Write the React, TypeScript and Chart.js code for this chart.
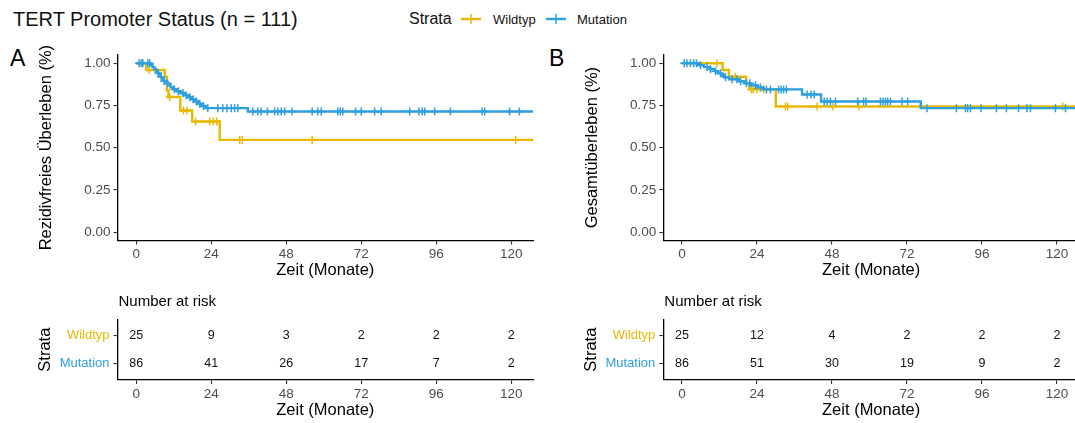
import React, { useEffect, useRef } from "react";
import { Chart, registerables } from "chart.js";

Chart.register(...registerables);

const FONT = "'Liberation Sans', Arial, Helvetica, sans-serif";
const YELLOW = "#E7B800";
const BLUE = "#2E9FDF";

// ---------- shared labels ----------
const strataLabels = ["Wildtyp", "Mutation"];
const xTicks = [0, 24, 48, 72, 96, 120];
const yTicks = [0, 0.25, 0.5, 0.75, 1];
const riskTimes = [0, 24, 48, 72, 96, 120];

// ---------- Panel A: Rezidivfreies Überleben ----------
const rfsWildTimes = [0, 3.2, 9.1, 9.8, 10.3, 14.1, 17.9, 26.7, 130];
const rfsWildSurv = [1, 0.96, 0.92, 0.84, 0.8, 0.72, 0.655, 0.546, 0.546];
const rfsWildCensor = [4.1, 10.7, 15.1, 16.2, 19.0, 23.5, 24.7, 25.8, 33.1, 33.9, 56.3, 121.4];

const rfsMutTimes = [0, 4.5, 5.2, 5.8, 6.3, 6.8, 7.3, 7.8, 8.3, 8.8, 9.5, 10.3, 11.0, 11.8, 13.0, 14.2, 15.3, 16.5, 17.8, 18.8, 19.8, 20.8, 22.2, 35.7, 130];
const rfsMutSurv = [1, 0.988, 0.977, 0.965, 0.953, 0.942, 0.93, 0.918, 0.906, 0.894, 0.882, 0.87, 0.858, 0.846, 0.834, 0.822, 0.81, 0.798, 0.786, 0.773, 0.76, 0.747, 0.734, 0.714, 0.714];
const rfsMutCensor = [0.9, 1.6, 2.1, 3.7, 4.3, 7.0, 8.0, 9.0, 10.0, 12.2, 13.5, 15.0, 16.0, 17.2, 18.2, 19.3, 20.3, 21.5, 22.9, 26.1, 27.7, 29.0, 30.4, 31.5, 32.5, 37.3, 38.9, 40.0, 42.0, 44.3, 45.3, 46.4, 47.5, 49.8, 56.3, 58.1, 59.2, 64.5, 65.3, 66.1, 70.2, 72.0, 76.3, 78.4, 87.5, 90.4, 91.5, 92.3, 95.5, 100.5, 110.7, 111.5, 119.5, 122.6];

const rfsRiskWild = [25, 9, 3, 2, 2, 2];
const rfsRiskMut = [86, 41, 26, 17, 7, 2];

// ---------- Panel B: Gesamtüberleben ----------
const osWildTimes = [0, 13.0, 15.0, 20.5, 21.5, 30.0, 130];
const osWildSurv = [1, 0.96, 0.92, 0.88, 0.846, 0.744, 0.744];
const osWildCensor = [11.2, 17.1, 22.2, 22.8, 24.0, 26.1, 33.1, 33.8, 43.2, 48.3, 56.5, 121.8];

const osMutTimes = [0, 5, 7, 9, 10.5, 11.5, 12.5, 13.5, 15, 18, 20, 22, 24, 26, 38.4, 44.5, 76.4, 130];
const osMutSurv = [1, 0.988, 0.977, 0.965, 0.953, 0.941, 0.929, 0.917, 0.905, 0.893, 0.881, 0.869, 0.857, 0.845, 0.815, 0.773, 0.734, 0.734];
const osMutCensor = [0.7, 1.6, 2.7, 3.7, 4.6, 5.9, 8.0, 9.1, 10.7, 12.3, 13.9, 16.0, 17.6, 18.7, 20.6, 21.7, 23.5, 25.1, 27.0, 28.3, 30.9, 31.7, 32.5, 33.4, 40.0, 41.3, 42.3, 45.5, 46.4, 47.5, 49.1, 56.2, 58.1, 58.9, 63.5, 64.3, 65.1, 65.8, 66.7, 70.4, 72.2, 78.4, 87.8, 90.7, 91.4, 92.3, 95.7, 100.6, 103.8, 107.7, 110.4, 111.5, 119.5, 122.7];

const osRiskWild = [25, 12, 4, 2, 2, 2];
const osRiskMut = [86, 51, 30, 19, 9, 2];

// ---------- helpers ----------
type Series = { label: string; color: string; times: number[]; surv: number[]; censor: number[]; order: number };

function survAt(times: number[], surv: number[], t: number) {
  let s = surv[0];
  for (let i = 0; i < times.length; i++) if (times[i] <= t) s = surv[i];
  return s;
}

type Geom = {
  yWidth: number;
  padTop: number;
  padRight: number;
  xHeight: number;
  xTitlePadBottom: number;
  yTitlePadTop: number;
};

function xScale(g: Geom) {
  return {
    type: "linear",
    min: -6,
    max: 127,
    afterBuildTicks: (s: any) => {
      s.ticks = xTicks.map((v) => ({ value: v }));
    },
    afterFit: (s: any) => {
      s.height = g.xHeight;
    },
    grid: { drawOnChartArea: false, drawTicks: true, tickLength: 4, tickColor: "#333", lineWidth: 1.1 },
    border: { display: true, color: "#000", width: 1.3 },
    ticks: { color: "#4D4D4D", font: { family: FONT, size: 13.5 }, padding: 2, maxRotation: 0, autoSkip: false },
    title: {
      display: true,
      text: "Zeit (Monate)",
      color: "#000",
      font: { family: FONT, size: 16.5 },
      padding: { top: 0, bottom: g.xTitlePadBottom },
    },
  };
}

function survivalConfig(series: Series[], yTitle: string, g: Geom): any {
  const datasets: any[] = [];
  series.forEach((s) => {
    datasets.push({
      type: "line",
      label: s.label,
      order: s.order,
      data: s.times.map((t, i) => ({ x: t, y: s.surv[i] })),
      borderColor: s.color,
      borderWidth: 2.4,
      stepped: "before",
      pointRadius: 0,
      pointHoverRadius: 0,
      fill: false,
    });
    datasets.push({
      type: "scatter",
      label: s.label + " (zensiert)",
      order: s.order,
      data: s.censor.map((t) => ({ x: t, y: survAt(s.times, s.surv, t) })),
      pointStyle: "cross",
      pointRadius: 4,
      pointHoverRadius: 4,
      borderColor: s.color,
      backgroundColor: s.color,
      borderWidth: 1.5,
      showLine: false,
    });
  });
  return {
    type: "line",
    data: { datasets },
    options: {
      animation: false,
      responsive: false,
      devicePixelRatio: 1,
      events: [],
      layout: { padding: { top: g.padTop, right: g.padRight, bottom: 0, left: 0 } },
      plugins: { legend: { display: false }, tooltip: { enabled: false }, title: { display: false } },
      scales: {
        x: xScale(g),
        y: {
          type: "linear",
          min: -0.05,
          max: 1.05,
          afterBuildTicks: (s: any) => {
            s.ticks = yTicks.map((v) => ({ value: v }));
          },
          afterFit: (s: any) => {
            s.width = g.yWidth;
          },
          grid: { drawOnChartArea: false, drawTicks: true, tickLength: 4, tickColor: "#333", lineWidth: 1.1 },
          border: { display: true, color: "#000", width: 1.3 },
          ticks: {
            color: "#4D4D4D",
            font: { family: FONT, size: 13.5 },
            padding: 3,
            callback: (v: any) => Number(v).toFixed(2),
          },
          title: {
            display: true,
            text: yTitle,
            color: "#000",
            font: { family: FONT, size: 16.5 },
            padding: { top: g.yTitlePadTop, bottom: 0 },
          },
        },
      },
    },
  };
}

const riskTextPlugin = {
  id: "riskText",
  afterDatasetsDraw(chart: any) {
    const ctx = chart.ctx;
    ctx.save();
    ctx.fillStyle = "#111";
    ctx.textAlign = "center";
    ctx.textBaseline = "middle";
    ctx.font = `12.5px ${FONT}`;
    chart.data.datasets.forEach((ds: any, di: number) => {
      const meta = chart.getDatasetMeta(di);
      meta.data.forEach((pt: any, i: number) => {
        ctx.fillText(String(ds.data[i].n), pt.x, pt.y);
      });
    });
    ctx.textAlign = "left";
    ctx.fillStyle = "#000";
    ctx.font = `15px ${FONT}`;
    ctx.fillText("Number at risk", chart.chartArea.left + 1, 11.7);
    ctx.restore();
  },
};

function riskConfig(rows: number[][], g: Geom): any {
  const datasets = rows.map((vals, r) => ({
    type: "scatter",
    label: strataLabels[r],
    data: riskTimes.map((t, i) => ({ x: t, y: r + 1, n: vals[i] })),
    pointRadius: 0,
    pointHoverRadius: 0,
    showLine: false,
  }));
  return {
    type: "scatter",
    data: { datasets },
    plugins: [riskTextPlugin],
    options: {
      animation: false,
      responsive: false,
      devicePixelRatio: 1,
      events: [],
      layout: { padding: { top: g.padTop, right: g.padRight, bottom: 0, left: 0 } },
      plugins: { legend: { display: false }, tooltip: { enabled: false } },
      scales: {
        x: xScale(g),
        y: {
          type: "linear",
          min: 0.4,
          max: 2.6,
          reverse: true,
          afterBuildTicks: (s: any) => {
            s.ticks = [1, 2].map((v) => ({ value: v }));
          },
          afterFit: (s: any) => {
            s.width = g.yWidth;
          },
          grid: { drawOnChartArea: false, drawTicks: true, tickLength: 4, tickColor: "#333", lineWidth: 1.1 },
          border: { display: true, color: "#000", width: 1.3 },
          ticks: {
            color: (c: any) => (c.index === 0 ? YELLOW : BLUE),
            font: { family: FONT, size: 13 },
            padding: 4,
            callback: (v: any) => strataLabels[Math.round(Number(v)) - 1],
          },
          title: {
            display: true,
            text: "Strata",
            color: "#000",
            font: { family: FONT, size: 16.5 },
            padding: { top: g.yTitlePadTop, bottom: 0 },
          },
        },
      },
    },
  };
}

function ChartBox(props: { left: number; top: number; width: number; height: number; build: () => any }) {
  const ref = useRef<HTMLCanvasElement>(null);
  useEffect(() => {
    const chart = new Chart(ref.current as HTMLCanvasElement, props.build());
    return () => chart.destroy();
  }, []);
  return (
    <div style={{ position: "absolute", left: props.left, top: props.top, width: props.width, height: props.height }}>
      <canvas
        ref={ref}
        width={props.width}
        height={props.height}
        style={{ width: props.width, height: props.height, display: "block" }}
      />
    </div>
  );
}

function LegendIcon({ color, left }: { color: string; left: number }) {
  return (
    <svg width={22} height={14} style={{ position: "absolute", left, top: 12 }}>
      <line x1={1} y1={7} x2={21} y2={7} stroke={color} strokeWidth={2.4} />
      <line x1={11} y1={2} x2={11} y2={12} stroke={color} strokeWidth={1.5} />
    </svg>
  );
}

const seriesA: Series[] = [
  { label: strataLabels[0], color: YELLOW, times: rfsWildTimes, surv: rfsWildSurv, censor: rfsWildCensor, order: 2 },
  { label: strataLabels[1], color: BLUE, times: rfsMutTimes, surv: rfsMutSurv, censor: rfsMutCensor, order: 1 },
];
const seriesB: Series[] = [
  { label: strataLabels[0], color: YELLOW, times: osWildTimes, surv: osWildSurv, censor: osWildCensor, order: 2 },
  { label: strataLabels[1], color: BLUE, times: osMutTimes, surv: osMutSurv, censor: osMutCensor, order: 1 },
];

const geomMainA: Geom = { yWidth: 117.5, padTop: 14.8, padRight: 11.9, xHeight: 49.5, xTitlePadBottom: 10.1, yTitlePadTop: 37 };
const geomMainB: Geom = { yWidth: 118.3, padTop: 14.8, padRight: 11.1, xHeight: 49.5, xTitlePadBottom: 10.1, yTitlePadTop: 37.6 };
const geomRiskA: Geom = { yWidth: 117.5, padTop: 29.3, padRight: 11.9, xHeight: 43, xTitlePadBottom: 3.1, yTitlePadTop: 35.8 };
const geomRiskB: Geom = { yWidth: 118.3, padTop: 29.3, padRight: 11.1, xHeight: 43, xTitlePadBottom: 3.1, yTitlePadTop: 37 };

export default function App() {
  const text = (s: any) => ({ position: "absolute" as const, fontFamily: FONT, lineHeight: 1, whiteSpace: "nowrap" as const, ...s });
  return (
    <div
      style={{
        position: "fixed",
        left: 0,
        top: 0,
        width: 1075,
        height: 423,
        overflow: "hidden",
        background: "#fff",
      }}
    >
      <div style={text({ left: 13, top: 9, fontSize: 20, color: "#111" })}>TERT Promoter Status (n = 111)</div>
      <div style={text({ left: 409, top: 11, fontSize: 16, color: "#111" })}>Strata</div>
      <LegendIcon color={YELLOW} left={460} />
      <div style={text({ left: 493, top: 13, fontSize: 13, color: "#111" })}>{strataLabels[0]}</div>
      <LegendIcon color={BLUE} left={545} />
      <div style={text({ left: 577, top: 13, fontSize: 13, color: "#111" })}>{strataLabels[1]}</div>
      <div style={text({ left: 10, top: 46.5, fontSize: 23, color: "#000" })}>A</div>
      <div style={text({ left: 549, top: 46.5, fontSize: 23, color: "#000" })}>B</div>

      <ChartBox left={0} top={40} width={545} height={250} build={() => survivalConfig(seriesA, "Rezidivfreies Überleben (%)", geomMainA)} />
      <ChartBox left={545} top={40} width={545} height={250} build={() => survivalConfig(seriesB, "Gesamtüberleben (%)", geomMainB)} />
      <ChartBox left={0} top={290} width={545} height={133} build={() => riskConfig([rfsRiskWild, rfsRiskMut], geomRiskA)} />
      <ChartBox left={545} top={290} width={545} height={133} build={() => riskConfig([osRiskWild, osRiskMut], geomRiskB)} />
    </div>
  );
}
